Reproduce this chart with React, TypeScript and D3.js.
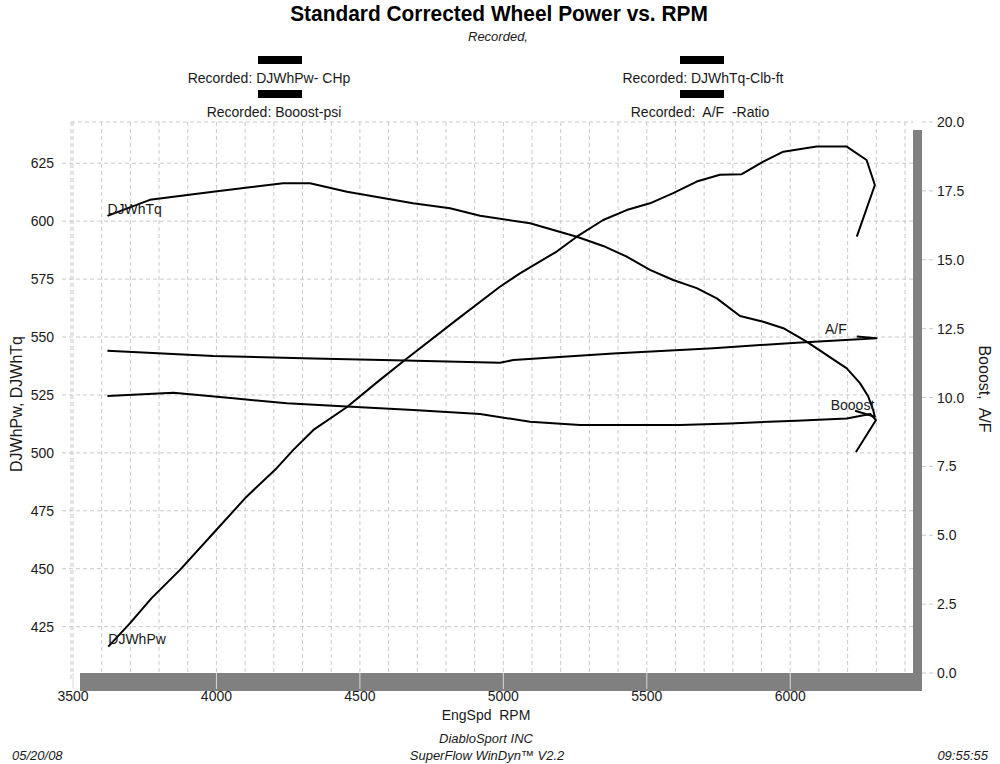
import * as d3 from "d3";

// ---- data ----
const powerRpm = [3623, 3699, 3774, 3873, 3989, 4105, 4210, 4268, 4338, 4454, 4570, 4657, 4837, 4988, 5058, 5186, 5256, 5348, 5430, 5511, 5592, 5674, 5755, 5831, 5906, 5976, 6092, 6197, 6266, 6295, 6232];
const powerHp = [416.4, 426.5, 437.3, 449.5, 465.3, 481.1, 493.4, 501.3, 509.9, 519.7, 531.5, 540.1, 557.4, 571.7, 577.5, 586.9, 593.3, 600.5, 604.8, 607.7, 612.1, 617.1, 620, 620.3, 625.7, 630, 632.2, 632.2, 626.4, 615.6, 593.3];

const torqueRpm = [3620, 3768, 3988, 4232, 4326, 4455, 4685, 4814, 4919, 5093, 5256, 5348, 5430, 5511, 5592, 5674, 5744, 5825, 5906, 5976, 6057, 6197, 6243, 6272, 6289, 6295, 6226];
const torqueFt = [602.3, 609.2, 612.7, 616.4, 616.4, 612.7, 607.7, 605.6, 602.3, 599.1, 593.3, 589.3, 584.7, 579, 574.6, 571.1, 566.7, 559.1, 556.6, 553.8, 548, 536.5, 530.1, 524.3, 518.5, 515.6, 518.2];

const afrRpm = [3620, 3989, 4338, 4657, 4988, 5035, 5383, 5732, 6022, 6301, 6232];
const afrRatio = [11.7, 11.51, 11.42, 11.34, 11.26, 11.36, 11.6, 11.79, 11.99, 12.15, 12.21];

const boostRpm = [3620, 3850, 4059, 4245, 4454, 4686, 4919, 5093, 5267, 5616, 5790, 6022, 6197, 6279, 6299, 6229];
const boostPsi = [10.05, 10.17, 9.97, 9.79, 9.67, 9.55, 9.4, 9.12, 9.0, 9.0, 9.06, 9.16, 9.24, 9.4, 9.18, 8.02];

const xTicks = [3500, 4000, 4500, 5000, 5500, 6000];
const leftTicks = [425, 450, 475, 500, 525, 550, 575, 600, 625];
const rightTicks = [0, 2.5, 5, 7.5, 10, 12.5, 15, 17.5, 20];

const FONT = "'Liberation Sans', Arial, sans-serif";

export default function App() {
    const W = 1000, H = 764;
    const plot = { left: 71, top: 122, right: 913, bottom: 673 };

    const x = d3.scaleLinear().domain([3500, 6400]).range([73, 905]);
    const yL = d3.scaleLinear().domain([405, 642.8]).range([plot.bottom, plot.top]);
    const yR = d3.scaleLinear().domain([0, 20]).range([plot.bottom, plot.top]);

    const minorX = d3.range(3500, 6401, 100);

    const mk = (xs, ys, ys2) =>
        d3.line<number>().x((_, i) => x(xs[i])).y((_, i) => ys2(ys[i]))(xs);

    const curves = [
        mk(powerRpm, powerHp, yL),
        mk(torqueRpm, torqueFt, yL),
        mk(afrRpm, afrRatio, yR),
        mk(boostRpm, boostPsi, yR),
    ];

    const grid = "#c9c9c9";
    const txt = "#1a1a1a";

    return (
        <svg width={W} height={H} style={{ position: "absolute", left: 0, top: 0, background: "#fff" }}
            fontFamily={FONT}>
            {/* titles - the original face is a bit condensed */}
            <text transform="translate(499,21) scale(0.95,1)" textAnchor="middle" fontSize={22} fontWeight="bold" fill="#000">
                Standard Corrected Wheel Power vs. RPM
            </text>
            <text x={498} y={41} textAnchor="middle" fontSize={13} fontStyle="italic" fill={txt}>Recorded,</text>

            {/* legend */}
            <rect x={258} y={56} width={44} height={8} fill="#000" />
            <text x={269} y={83} textAnchor="middle" fontSize={14} fill={txt}>Recorded: DJWhPw- CHp</text>
            <rect x={258} y={90} width={44} height={8} fill="#000" />
            <text x={274} y={117} textAnchor="middle" fontSize={14} fill={txt}>Recorded: Booost-psi</text>
            <rect x={680} y={56} width={44} height={8} fill="#000" />
            <text x={703} y={83} textAnchor="middle" fontSize={14} fill={txt}>Recorded: DJWhTq-Clb-ft</text>
            <rect x={680} y={90} width={44} height={8} fill="#000" />
            <text x={700} y={117} textAnchor="middle" fontSize={14} fill={txt} style={{ whiteSpace: "pre" }}>
                {"Recorded:  A/F  -Ratio"}
            </text>

            {/* frame shadow */}
            <rect x={plot.left + 9} y={plot.top + 8} width={plot.right - plot.left} height={plot.bottom - plot.top + 10} fill="#808080" />
            <rect x={plot.left} y={plot.top} width={plot.right - plot.left} height={plot.bottom - plot.top} fill="#fff" />

            {/* grid */}
            {minorX.map(v => (
                <line key={"vx" + v} x1={x(v)} x2={x(v)} y1={plot.top} y2={plot.bottom} stroke={grid} strokeDasharray="4,3" strokeWidth={1} />
            ))}
            {leftTicks.map(v => (
                <line key={"hl" + v} x1={62} x2={plot.right} y1={yL(v)} y2={yL(v)} stroke={grid} strokeDasharray="4,3" strokeWidth={1} />
            ))}
            <line x1={plot.left} x2={plot.right} y1={plot.top} y2={plot.top} stroke={grid} strokeDasharray="4,3" />
            <line x1={plot.left} x2={plot.left} y1={plot.top} y2={plot.bottom + 8} stroke={grid} strokeDasharray="4,3" />
            {xTicks.map(v => (
                <line key={"tx" + v} x1={x(v)} x2={x(v)} y1={plot.bottom} y2={plot.bottom + 16} stroke="#d8d8d8" strokeWidth={1} />
            ))}
            {rightTicks.map(v => (
                <line key={"tr" + v} x1={plot.right + 9} x2={934} y1={yR(v)} y2={yR(v)} stroke={grid} strokeDasharray="4,3" />
            ))}

            {/* axis labels */}
            {leftTicks.map(v => (
                <text key={"ll" + v} x={54} y={yL(v) + 5} textAnchor="end" fontSize={14} fill={txt}>{v}</text>
            ))}
            {rightTicks.map(v => (
                <text key={"rl" + v} x={937} y={yR(v) + 5} fontSize={14} fill={txt}>{v.toFixed(1)}</text>
            ))}
            {xTicks.map(v => (
                <text key={"xl" + v} x={x(v)} y={701} textAnchor="middle" fontSize={14} fill={txt}>{v}</text>
            ))}
            <text transform="translate(22,404) rotate(-90)" textAnchor="middle" fontSize={16} fill={txt}>DJWhPw, DJWhTq</text>
            <text transform="translate(979,389) rotate(90)" textAnchor="middle" fontSize={16} fill={txt} style={{ whiteSpace: "pre" }}>
                {"Booost,  A/F"}
            </text>
            <text x={486} y={720} textAnchor="middle" fontSize={14} fill={txt} style={{ whiteSpace: "pre" }}>{"EngSpd  RPM"}</text>

            {/* curves */}
            {curves.map((d, i) => (
                <path key={"c" + i} d={d} fill="none" stroke="#000" strokeWidth={2} strokeLinejoin="round" />
            ))}

            {/* curve labels */}
            <text x={x(torqueRpm[0])} y={yL(torqueFt[0]) - 2} fontSize={14} fill={txt}>DJWhTq</text>
            <text x={x(powerRpm[0])} y={yL(powerHp[0]) - 3} fontSize={14} fill={txt}>DJWhPw</text>
            <text x={x(afrRpm[afrRpm.length - 1]) - 10} y={yR(afrRatio[afrRatio.length - 1]) - 3} textAnchor="end" fontSize={14} fill={txt}>A/F</text>
            <text x={x(boostRpm[boostRpm.length - 3]) + 4} y={yR(boostPsi[boostPsi.length - 3]) - 4} textAnchor="end" fontSize={14} fill={txt}>Booost</text>

            {/* footer */}
            <text x={486} y={743} textAnchor="middle" fontSize={13} fontStyle="italic" fill={txt}>DiabloSport INC</text>
            <text x={487} y={760} textAnchor="middle" fontSize={13} fontStyle="italic" fill={txt}>SuperFlow WinDyn™ V2.2</text>
            <text x={12} y={760} fontSize={13} fontStyle="italic" fill={txt}>05/20/08</text>
            <text x={988} y={760} textAnchor="end" fontSize={13} fontStyle="italic" fill={txt}>09:55:55</text>
        </svg>
    );
}
